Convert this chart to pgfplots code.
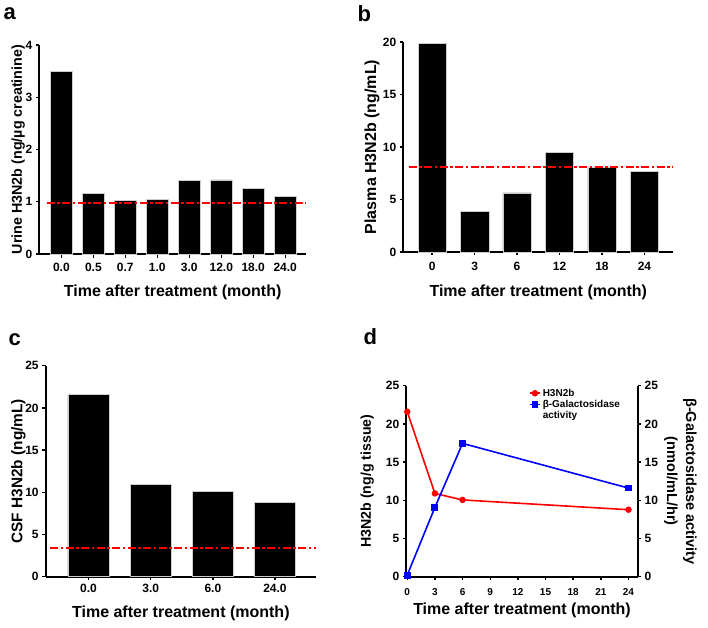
\documentclass[border=0pt]{standalone}
\usepackage{pgfplots}
\pgfplotsset{compat=1.18}
\usepackage{fontspec}
\setmainfont{Liberation Sans}
\newcommand{\fsz}[1]{\bfseries\fontsize{#1}{#1}\selectfont}
\begin{document}
\begin{tikzpicture}
\useasboundingbox (0pt,0pt) rectangle (708pt,627pt);
\pgfplotsset{
  panel/.style={
    scale only axis,
    axis x line*=bottom, axis y line*=left,
    axis line style={line width=1.8pt,-},
    every outer x axis line/.append style={line width=1.8pt},
    every outer y axis line/.append style={line width=1.8pt},
    tick align=outside,
    major tick length=3.5pt,
    every tick/.append style={line width=1.4pt,black},
    ymin=0,
    tick label style={font=\fsz{12}},
    /pgf/number format/assume math mode=true,
    xlabel style={font=\fsz{16},anchor=center},
    ylabel style={anchor=center},
    clip=false,
  },
  barp/.style={ybar, fill=black, draw=gray!40, line width=0.5pt, bar shift=0pt},
  refl/.style={draw=red, color=red, line width=2.2pt, dash pattern=on 8pt off 2.5pt on 2.5pt off 2.5pt},
}
% ---------- panel a ----------
\begin{axis}[panel, at={(39.3pt,373pt)}, anchor=south west,
  width=266.7pt, height=209pt, xmin=-0.69, xmax=7.65, ymax=4,
  ytick={0,1,2,3,4}, xtick={0,...,7},
  xticklabels={0.0,0.5,0.7,1.0,3.0,12.0,18.0,24.0},
  xticklabel style={yshift=-2pt},
  bar width=21.3pt,
  xlabel={Time after treatment (month)},
  ylabel={Urine H3N2b (ng/µg creatinine)},
  xlabel style={at={(axis description cs:0.5,-0.182)}},
  ylabel style={at={(axis description cs:-0.079,0.5)},font=\fsz{14.3}}]
\addplot[barp] coordinates {(0,3.5)(1,1.16)(2,1.03)(3,1.05)(4,1.41)(5,1.42)(6,1.25)(7,1.10)};
\addplot[refl] coordinates {(-0.46,0.98)(7.65,0.98)};
\end{axis}
% ---------- panel b ----------
\begin{axis}[panel, at={(403.3pt,375pt)}, anchor=south west,
  width=270pt, height=210pt, xmin=-0.68, xmax=5.68, ymax=20,
  ytick={0,5,10,15,20}, xtick={0,...,5},
  xticklabels={0,3,6,12,18,24},
  xticklabel style={yshift=-3pt},
  bar width=28.3pt,
  xlabel={Time after treatment (month)},
  ylabel={Plasma H3N2b (ng/mL)},
  xlabel style={at={(axis description cs:0.5,-0.19)}},
  ylabel style={at={(axis description cs:-0.116,0.5)},font=\fsz{16}}]
\addplot[barp] coordinates {(0,19.84)(1,3.87)(2,5.62)(3,9.49)(4,8.03)(5,7.71)};
\addplot[refl] coordinates {(-0.55,8.13)(5.68,8.13)};
\end{axis}
% ---------- panel c ----------
\begin{axis}[panel, at={(45.7pt,50.3pt)}, anchor=south west,
  width=270.3pt, height=211pt, xmin=-0.69, xmax=3.66, ymax=25,
  ytick={0,5,10,15,20,25}, xtick={0,...,3},
  xticklabels={0.0,3.0,6.0,24.0},
  bar width=41.3pt,
  xlabel={Time after treatment (month)},
  ylabel={CSF H3N2b (ng/mL)},
  xlabel style={at={(axis description cs:0.5,-0.173)}},
  ylabel style={at={(axis description cs:-0.101,0.5)},font=\fsz{15.4}}]
\addplot[barp] coordinates {(0,21.56)(1,10.9)(2,10.07)(3,8.77)};
\addplot[refl] coordinates {(-0.62,3.44)(3.66,3.44)};
\end{axis}
% ---------- panel d ----------
\begin{axis}[panel, at={(406.3pt,50.3pt)}, anchor=south west,
  width=231.4pt, height=191pt, xmin=-0.1, xmax=25, ymax=25,
  ytick={0,5,10,15,20,25}, xtick={0,3,...,24},
  xticklabel style={font=\fsz{10},yshift=-5pt},
  xlabel={Time after treatment (month)},
  ylabel={H3N2b (ng/g tissue)},
  xlabel style={at={(axis description cs:0.5,-0.174)}},
  ylabel style={at={(axis description cs:-0.169,0.5)},font=\fsz{14.2}},
  legend style={at={(axis description cs:0.53,0.995)}, anchor=north west,
    draw=none, fill=none, font=\fsz{10}, row sep=-1.5pt, inner sep=0pt},
  legend cell align=left,
  legend image code/.code={\draw[mark repeat=2,mark phase=2] plot coordinates {(0pt,0pt)(5pt,0pt)(10pt,0pt)};}]
\addplot[red, line width=1.6pt, mark=*, mark size=2.4pt] coordinates {(0,21.6)(3,10.9)(6,10.05)(24,8.77)};
\addlegendentry{H3N2b}
\addlegendimage{blue, line width=1.6pt, mark=square*, mark size=2.6pt}
\addlegendentry{β-Galactosidase}
\addlegendimage{empty legend}
\addlegendentry{activity}
\end{axis}
\begin{axis}[panel, at={(406.3pt,50.3pt)}, anchor=south west,
  width=231.4pt, height=191pt, xmin=-0.1, xmax=25, ymin=0, ymax=25,
  axis x line=none, axis y line*=right,
  ytick={0,5,10,15,20,25},
  ylabel={β-Galactosidase activity\\(nmol/mL/hr)},
  ylabel style={at={(axis description cs:1.184,0.5)},rotate=180,align=center,
    font=\bfseries\fontsize{14.5}{19}\selectfont}]
\addplot[blue, line width=1.6pt, mark=square*, mark size=2.6pt] coordinates {(0,0.2)(3,9.07)(6,17.45)(24,11.6)};
\end{axis}
% panel letters
\node[anchor=west,font=\fsz{22}] at (0pt,613pt) {a};
\node[anchor=west,font=\fsz{22}] at (354pt,613pt) {b};
\node[anchor=west,font=\fsz{22}] at (5pt,287pt) {c};
\node[anchor=west,font=\fsz{22}] at (360pt,290pt) {d};
\end{tikzpicture}
\end{document}
